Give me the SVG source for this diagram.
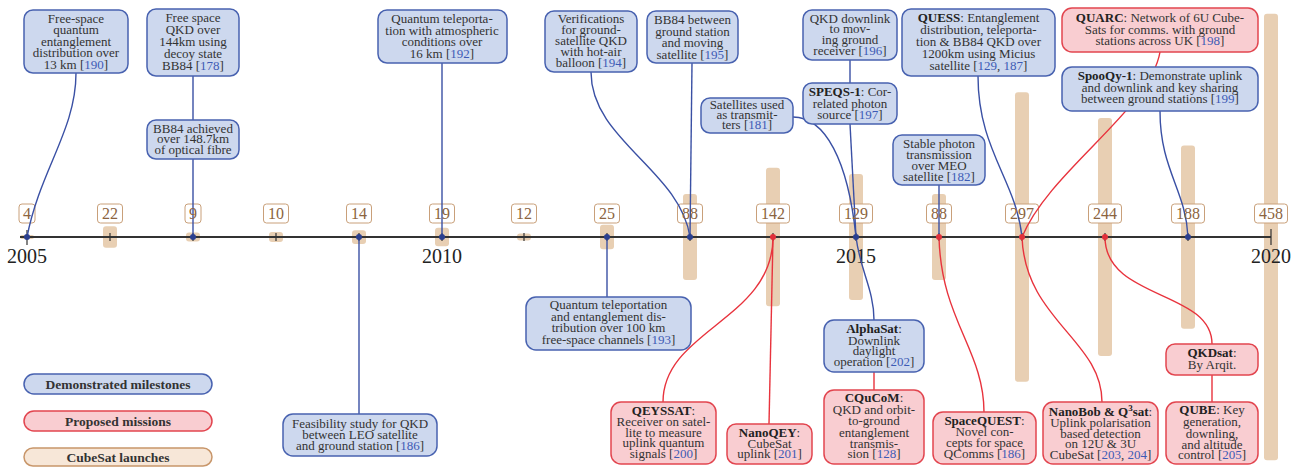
<svg xmlns="http://www.w3.org/2000/svg" width="1304" height="467" viewBox="0 0 1304 467">
<style>
.t{font-family:"Liberation Serif","Times New Roman",serif;font-size:13px;fill:#333;text-anchor:middle}
.r{fill:#3d5bb5}
.b{font-weight:bold;fill:#222}
.nb{fill:#cdd8ee;stroke:#4862b0;stroke-width:1.5}
.nr{fill:#f9cdd1;stroke:#e2454f;stroke-width:1.5}
.bar{fill:#e8cfb3}
.yb{fill:#fff;stroke:#c9a07a;stroke-width:1}
.yt{font-family:"Liberation Serif","Times New Roman",serif;font-size:16px;fill:#8b6440;text-anchor:middle}
.yr{font-family:"Liberation Serif","Times New Roman",serif;font-size:20px;fill:#222;text-anchor:middle}
.cb{fill:none;stroke:#3a50a4;stroke-width:1.4}
.cr{fill:none;stroke:#e8333d;stroke-width:1.4}
.db{fill:#2b3f8f}
.dr{fill:#e0303a}
.lg{font-family:"Liberation Serif","Times New Roman",serif;font-size:13.5px;font-weight:bold;fill:#333;text-anchor:middle}
</style>
<g id="cubesat-bars">
<rect class="bar" x="20" y="235" width="14" height="4" rx="2"/>
<rect class="bar" x="103" y="226.2" width="14" height="21.5" rx="3"/>
<rect class="bar" x="186" y="232.6" width="14" height="8.8" rx="3"/>
<rect class="bar" x="269" y="232.1" width="14" height="9.8" rx="3"/>
<rect class="bar" x="352" y="230.2" width="14" height="13.7" rx="3"/>
<rect class="bar" x="435" y="227.8" width="14" height="18.5" rx="3"/>
<rect class="bar" x="517" y="233.5" width="14" height="7" rx="3"/>
<rect class="bar" x="600" y="224.8" width="14" height="24.4" rx="3"/>
<rect class="bar" x="683" y="194.1" width="14" height="85.8" rx="3"/>
<rect class="bar" x="766" y="167.8" width="14" height="138.5" rx="3"/>
<rect class="bar" x="849" y="174.1" width="14" height="125.8" rx="3"/>
<rect class="bar" x="932" y="194.1" width="14" height="85.8" rx="3"/>
<rect class="bar" x="1015" y="92.2" width="14" height="289.6" rx="3"/>
<rect class="bar" x="1098" y="118.1" width="14" height="237.9" rx="3"/>
<rect class="bar" x="1181" y="145.4" width="14" height="183.3" rx="3"/>
<rect class="bar" x="1264" y="13.7" width="14" height="446.6" rx="3"/>
</g>
<g id="year-count-boxes">
<rect class="yb" x="19" y="204" width="16" height="19" rx="3"/>
<rect class="yb" x="97.5" y="204" width="25" height="19" rx="3"/>
<rect class="yb" x="185" y="204" width="16" height="19" rx="3"/>
<rect class="yb" x="263.5" y="204" width="25" height="19" rx="3"/>
<rect class="yb" x="346.5" y="204" width="25" height="19" rx="3"/>
<rect class="yb" x="429.5" y="204" width="25" height="19" rx="3"/>
<rect class="yb" x="511.5" y="204" width="25" height="19" rx="3"/>
<rect class="yb" x="594.5" y="204" width="25" height="19" rx="3"/>
<rect class="yb" x="677.5" y="204" width="25" height="19" rx="3"/>
<rect class="yb" x="756.5" y="204" width="33" height="19" rx="3"/>
<rect class="yb" x="839.5" y="204" width="33" height="19" rx="3"/>
<rect class="yb" x="926.5" y="204" width="25" height="19" rx="3"/>
<rect class="yb" x="1005.5" y="204" width="33" height="19" rx="3"/>
<rect class="yb" x="1088.5" y="204" width="33" height="19" rx="3"/>
<rect class="yb" x="1171.5" y="204" width="33" height="19" rx="3"/>
<rect class="yb" x="1254.5" y="204" width="33" height="19" rx="3"/>
</g>
<g id="axis">
<line x1="20" y1="237" x2="1271" y2="237" stroke="#333" stroke-width="2"/>
<path d="M27,230V245M110,233V241M193,233V241M276,233V241M359,233V241M442,233V241M524,233V241M607,233V241M690,233V241M773,233V241M856,233V241M939,233V241M1022,233V241M1105,233V241M1188,233V241M1271,229V245" stroke="#333" stroke-width="1.2" fill="none"/>
<text class="yr" x="27" y="263">2005</text>
<text class="yr" x="442" y="263">2010</text>
<text class="yr" x="856" y="263">2015</text>
<text class="yr" x="1271" y="263">2020</text>
</g>
<g id="connectors">
<path class="cb" d="M76,73 C76,130 40,170 27,237"/>
<path class="cb" d="M193,76 V120"/>
<path class="cb" d="M193,159 V237"/>
<path class="cb" d="M442,63 V237"/>
<path class="cb" d="M591,72 C591,140 680,170 690,237"/>
<path class="cb" d="M692,63 L690,237"/>
<path class="cb" d="M850,60 V83"/>
<path class="cb" d="M850,124 L856,237"/>
<path class="cb" d="M793,117 C825,117 848,160 856,237"/>
<path class="cb" d="M856,237 C860,270 874,290 874,320"/>
<path class="cb" d="M978,76 C978,150 1016,180 1022,237"/>
<path class="cb" d="M939,185 V237"/>
<path class="cb" d="M1160,111 C1160,170 1186,190 1188,237"/>
<path class="cb" d="M359,237 V414"/>
<path class="cb" d="M607,237 V297"/>
<path class="cr" d="M1160,52 C1150,110 1050,170 1022,237"/>
<path class="cr" d="M1022,237 C1025,320 1102,340 1102,402"/>
<path class="cr" d="M773,237 C773,320 663,330 663,402"/>
<path class="cr" d="M773,237 L769,424"/>
<path class="cr" d="M939,237 C941,320 984,350 984,412"/>
<path class="cr" d="M1105,237 C1105,300 1212,290 1212,344"/>
<path class="cr" d="M1212,375 V402"/>
<path class="cr" d="M874,372 V390"/>
</g>
<g id="axis-dots">
<circle class="db" cx="27" cy="237" r="3"/>
<circle class="db" cx="193" cy="237" r="3"/>
<circle class="db" cx="359" cy="237" r="3"/>
<circle class="db" cx="442" cy="237" r="3"/>
<circle class="db" cx="607" cy="237" r="3"/>
<circle class="db" cx="690" cy="237" r="3"/>
<circle class="db" cx="856" cy="237" r="3"/>
<circle class="db" cx="1188" cy="237" r="3"/>
<circle class="dr" cx="773" cy="237" r="3"/>
<circle class="dr" cx="939" cy="237" r="3"/>
<circle class="dr" cx="1022" cy="237" r="3"/>
<circle class="dr" cx="1105" cy="237" r="3"/>
</g>
<g id="year-counts">
<text class="yt" x="27" y="219">4</text>
<text class="yt" x="110" y="219">22</text>
<text class="yt" x="193" y="219">9</text>
<text class="yt" x="276" y="219">10</text>
<text class="yt" x="359" y="219">14</text>
<text class="yt" x="442" y="219">19</text>
<text class="yt" x="524" y="219">12</text>
<text class="yt" x="607" y="219">25</text>
<text class="yt" x="690" y="219">88</text>
<text class="yt" x="773" y="219">142</text>
<text class="yt" x="856" y="219">129</text>
<text class="yt" x="939" y="219">88</text>
<text class="yt" x="1022" y="219">297</text>
<text class="yt" x="1105" y="219">244</text>
<text class="yt" x="1188" y="219">188</text>
<text class="yt" x="1271" y="219">458</text>
</g>
<g id="n190">
<rect class="nb" x="24" y="10" width="104" height="63" rx="9"/>
<text class="t"><tspan x="76" y="22.5">Free-space</tspan><tspan x="76" y="34">quantum</tspan><tspan x="76" y="45.5">entanglement</tspan><tspan x="76" y="57">distribution over</tspan><tspan x="76" y="68.5">13 km [<tspan class="r">190</tspan>]</tspan></text>
</g>
<g id="n178">
<rect class="nb" x="147" y="9" width="92" height="67" rx="9"/>
<text class="t"><tspan x="193" y="21.5">Free space</tspan><tspan x="193" y="33.5">QKD over</tspan><tspan x="193" y="45.5">144km using</tspan><tspan x="193" y="57.5">decoy state</tspan><tspan x="193" y="69.5">BB84 [<tspan class="r">178</tspan>]</tspan></text>
</g>
<g id="n-fibre">
<rect class="nb" x="147" y="120" width="92" height="39" rx="9"/>
<text class="t"><tspan x="193" y="132.5">BB84 achieved</tspan><tspan x="193" y="143">over 148.7km</tspan><tspan x="193" y="153.5">of optical fibre</tspan></text>
</g>
<g id="n192">
<rect class="nb" x="378" y="10" width="129" height="53" rx="9"/>
<text class="t"><tspan x="442" y="23">Quantum teleporta-</tspan><tspan x="442" y="34.5">tion with atmospheric</tspan><tspan x="442" y="46">conditions over</tspan><tspan x="442" y="57.5">16 km [<tspan class="r">192</tspan>]</tspan></text>
</g>
<g id="n194">
<rect class="nb" x="545" y="11" width="92" height="61" rx="9"/>
<text class="t"><tspan x="591" y="23">Verifications</tspan><tspan x="591" y="34">for ground-</tspan><tspan x="591" y="45">satellite QKD</tspan><tspan x="591" y="56">with hot-air</tspan><tspan x="591" y="67">balloon [<tspan class="r">194</tspan>]</tspan></text>
</g>
<g id="n195">
<rect class="nb" x="647" y="11" width="91" height="52" rx="9"/>
<text class="t"><tspan x="692.5" y="24">BB84 between</tspan><tspan x="692.5" y="35.5">ground station</tspan><tspan x="692.5" y="47">and moving</tspan><tspan x="692.5" y="58.5">satellite [<tspan class="r">195</tspan>]</tspan></text>
</g>
<g id="n196">
<rect class="nb" x="803" y="10" width="94" height="50" rx="9"/>
<text class="t"><tspan x="850" y="22.5">QKD downlink</tspan><tspan x="850" y="33">to mov-</tspan><tspan x="850" y="44">ing ground</tspan><tspan x="850" y="55">receiver [<tspan class="r">196</tspan>]</tspan></text>
</g>
<g id="n197">
<rect class="nb" x="803" y="83" width="94" height="41" rx="9"/>
<text class="t"><tspan x="850" y="96"><tspan class="b">SPEQS-1</tspan>: Cor-</tspan><tspan x="850" y="107.5">related photon</tspan><tspan x="850" y="119">source [<tspan class="r">197</tspan>]</tspan></text>
</g>
<g id="n181">
<rect class="nb" x="701" y="98" width="92" height="35" rx="9"/>
<text class="t"><tspan x="747" y="109">Satellites used</tspan><tspan x="747" y="119">as transmit-</tspan><tspan x="747" y="129">ters [<tspan class="r">181</tspan>]</tspan></text>
</g>
<g id="n-quess">
<rect class="nb" x="902" y="9" width="153" height="67" rx="9"/>
<text class="t"><tspan x="978.5" y="22"><tspan class="b">QUESS</tspan>: Entanglement</tspan><tspan x="978.5" y="34">distribution, teleporta-</tspan><tspan x="978.5" y="46">tion &amp; BB84 QKD over</tspan><tspan x="978.5" y="58">1200km using Micius</tspan><tspan x="978.5" y="70">satellite [<tspan class="r">129</tspan>, <tspan class="r">187</tspan>]</tspan></text>
</g>
<g id="n182">
<rect class="nb" x="893" y="135" width="92" height="50" rx="9"/>
<text class="t"><tspan x="939" y="148">Stable photon</tspan><tspan x="939" y="159">transmission</tspan><tspan x="939" y="169.5">over MEO</tspan><tspan x="939" y="180.5">satellite [<tspan class="r">182</tspan>]</tspan></text>
</g>
<g id="n-quarc">
<rect class="nr" x="1062" y="8" width="196" height="44" rx="10"/>
<text class="t"><tspan x="1160" y="22"><tspan class="b">QUARC</tspan>: Network of 6U Cube-</tspan><tspan x="1160" y="33.5">Sats for comms. with ground</tspan><tspan x="1160" y="45">stations across UK [<tspan class="r">198</tspan>]</tspan></text>
</g>
<g id="n-spooqy">
<rect class="nb" x="1062" y="67" width="196" height="44" rx="10"/>
<text class="t"><tspan x="1160" y="80"><tspan class="b">SpooQy-1</tspan>: Demonstrate uplink</tspan><tspan x="1160" y="91.5">and downlink and key sharing</tspan><tspan x="1160" y="103">between ground stations [<tspan class="r">199</tspan>]</tspan></text>
</g>
<g id="n186-leo">
<rect class="nb" x="283" y="414" width="154" height="42" rx="10"/>
<text class="t"><tspan x="360" y="428">Feasibility study for QKD</tspan><tspan x="360" y="439">between LEO satellite</tspan><tspan x="360" y="450">and ground station [<tspan class="r">186</tspan>]</tspan></text>
</g>
<g id="n193">
<rect class="nb" x="526" y="297" width="165" height="53" rx="10"/>
<text class="t"><tspan x="608.5" y="309">Quantum teleportation</tspan><tspan x="608.5" y="320.5">and entanglement dis-</tspan><tspan x="608.5" y="332">tribution over 100 km</tspan><tspan x="608.5" y="343.5">free-space channels [<tspan class="r">193</tspan>]</tspan></text>
</g>
<g id="n-qeyssat">
<rect class="nr" x="611" y="402" width="105" height="62" rx="10"/>
<text class="t"><tspan x="663.5" y="415"><tspan class="b">QEYSSAT</tspan>:</tspan><tspan x="663.5" y="426">Receiver on satel-</tspan><tspan x="663.5" y="436.5">lite to measure</tspan><tspan x="663.5" y="447">uplink quantum</tspan><tspan x="663.5" y="458">signals [<tspan class="r">200</tspan>]</tspan></text>
</g>
<g id="n-nanoqey">
<rect class="nr" x="727" y="424" width="85" height="40" rx="9"/>
<text class="t"><tspan x="769.5" y="437"><tspan class="b">NanoQEY</tspan>:</tspan><tspan x="769.5" y="447.5">CubeSat</tspan><tspan x="769.5" y="458">uplink [<tspan class="r">201</tspan>]</tspan></text>
</g>
<g id="n-alphasat">
<rect class="nb" x="824" y="320" width="100" height="52" rx="10"/>
<text class="t"><tspan x="874" y="333"><tspan class="b">AlphaSat</tspan>:</tspan><tspan x="874" y="344.5">Downlink</tspan><tspan x="874" y="355">daylight</tspan><tspan x="874" y="366">operation [<tspan class="r">202</tspan>]</tspan></text>
</g>
<g id="n-cqucom">
<rect class="nr" x="824" y="390" width="100" height="74" rx="10"/>
<text class="t"><tspan x="874" y="402"><tspan class="b">CQuCoM</tspan>:</tspan><tspan x="874" y="413.5">QKD and orbit-</tspan><tspan x="874" y="425">to-ground</tspan><tspan x="874" y="436.5">entanglement</tspan><tspan x="874" y="447.5">transmis-</tspan><tspan x="874" y="458">sion [<tspan class="r">128</tspan>]</tspan></text>
</g>
<g id="n-spacequest">
<rect class="nr" x="933" y="412" width="103" height="52" rx="10"/>
<text class="t"><tspan x="984.5" y="424.5"><tspan class="b">SpaceQUEST</tspan>:</tspan><tspan x="984.5" y="436">Novel con-</tspan><tspan x="984.5" y="447">cepts for space</tspan><tspan x="984.5" y="458">QComms [<tspan class="r">186</tspan>]</tspan></text>
</g>
<g id="n-nanobob">
<rect class="nr" x="1043" y="402" width="115" height="62" rx="10"/>
<text class="t"><tspan x="1100.5" y="415.5"><tspan class="b">NanoBob &amp; Q<tspan font-size="9" dy="-5">3</tspan><tspan dy="5">sat</tspan></tspan>:</tspan><tspan x="1100.5" y="427">Uplink polarisation</tspan><tspan x="1100.5" y="437.5">based detection</tspan><tspan x="1100.5" y="448">on 12U &amp; 3U</tspan><tspan x="1100.5" y="458.5">CubeSat [<tspan class="r">203</tspan>, <tspan class="r">204</tspan>]</tspan></text>
</g>
<g id="n-qkdsat">
<rect class="nr" x="1166" y="344" width="92" height="31" rx="9"/>
<text class="t"><tspan x="1212" y="357"><tspan class="b">QKDsat</tspan>:</tspan><tspan x="1212" y="369">By Arqit.</tspan></text>
</g>
<g id="n-qube">
<rect class="nr" x="1166" y="402" width="92" height="62" rx="10"/>
<text class="t"><tspan x="1212" y="414"><tspan class="b">QUBE</tspan>: Key</tspan><tspan x="1212" y="426">generation,</tspan><tspan x="1212" y="437.5">downling,</tspan><tspan x="1212" y="448.5">and altitude</tspan><tspan x="1212" y="459">control [<tspan class="r">205</tspan>]</tspan></text>
</g>
<g id="legend">
<rect class="nb" x="24" y="374" width="188" height="20" rx="10"/>
<text class="lg" x="118" y="388.5">Demonstrated milestones</text>
<rect class="nr" x="24" y="411" width="188" height="20" rx="10"/>
<text class="lg" x="118" y="425.5">Proposed missions</text>
<rect x="24" y="448" width="188" height="18" rx="9" fill="#f7e7d8" stroke="#c8966a" stroke-width="1.5"/>
<text class="lg" x="118" y="462">CubeSat launches</text>
</g>
</svg>
